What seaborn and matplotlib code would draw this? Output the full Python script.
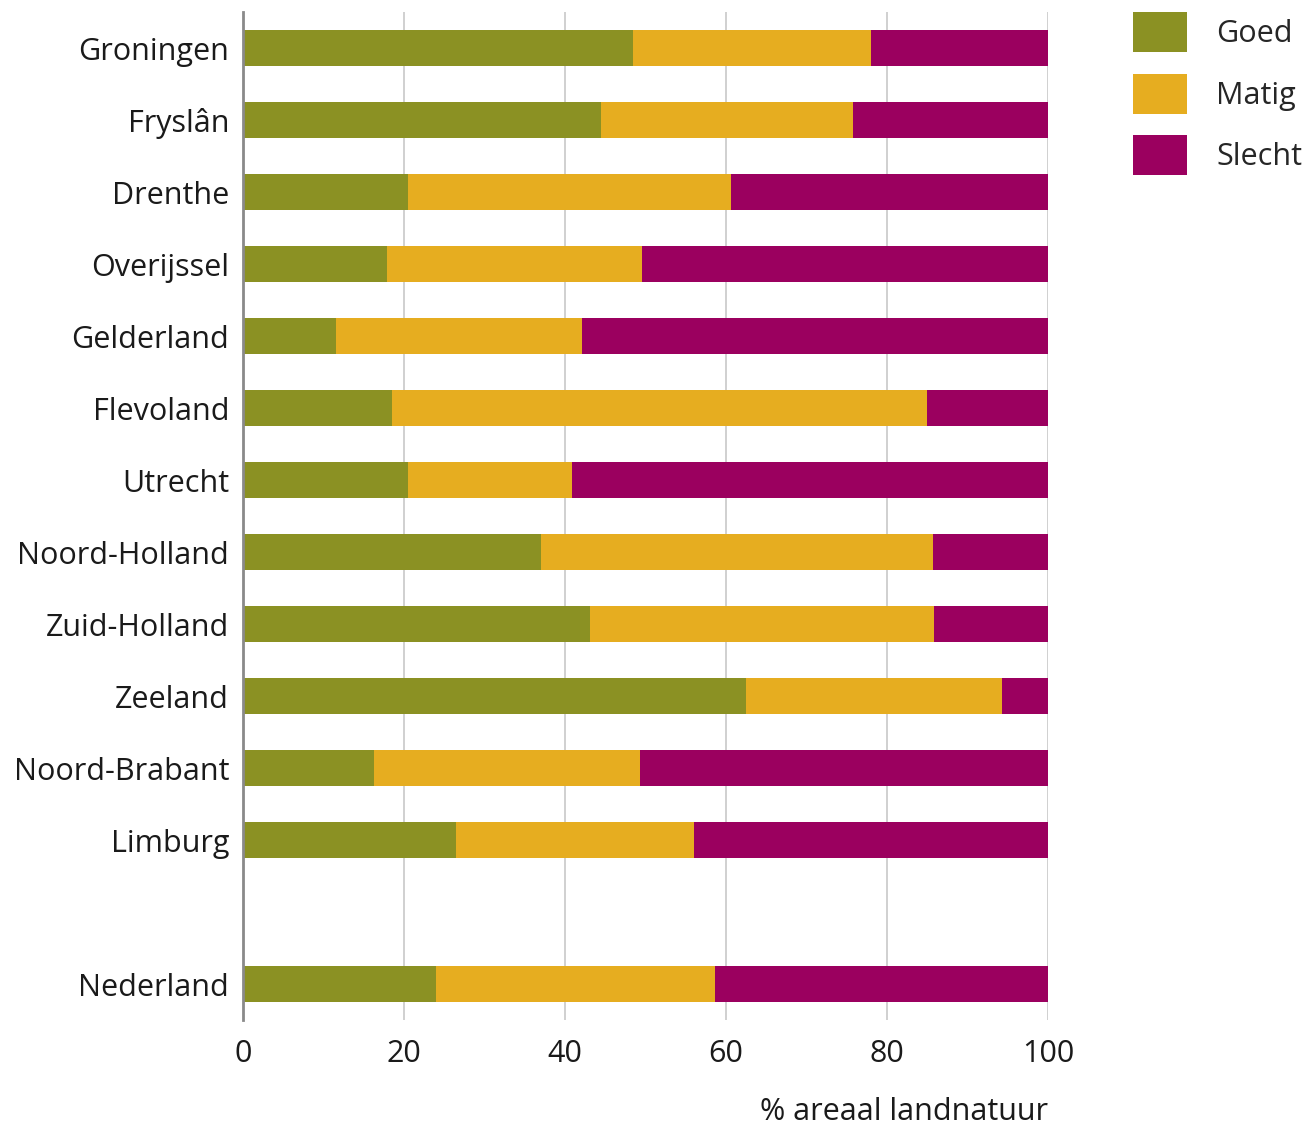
import pandas as pd
import matplotlib.pyplot as plt
import seaborn as sns
from matplotlib.patches import Patch

# DATA
provincies = ["Groningen", "Fryslân", "Drenthe", "Overijssel", "Gelderland",
              "Flevoland", "Utrecht", "Noord-Holland", "Zuid-Holland", "Zeeland",
              "Noord-Brabant", "Limburg", "Nederland"]
goed = [48.4, 44.4, 20.5, 17.9, 11.6, 18.5, 20.5, 37.0, 43.1, 62.5, 16.3, 26.5, 23.9]
matig = [29.6, 31.3, 40.1, 31.7, 30.5, 66.5, 20.4, 48.7, 42.7, 31.8, 33.0, 29.5, 34.7]
slecht = [22.0, 24.3, 39.4, 50.4, 57.9, 15.0, 59.1, 14.3, 14.2, 5.7, 50.7, 44.0, 41.4]

# lege rij tussen Limburg en Nederland
volgorde = provincies[:-1] + [" "] + provincies[-1:]

kleuren = {"Goed": "#8b9123", "Matig": "#e6ad20", "Slecht": "#9b005f"}

df = pd.DataFrame({"provincie": provincies, "Goed": goed, "Matig": matig, "Slecht": slecht})
df["cum_matig"] = df["Goed"] + df["Matig"]
df["cum_slecht"] = df["cum_matig"] + df["Slecht"]

sns.set_theme(style="white")
plt.rcParams["font.family"] = ["Open Sans", "DejaVu Sans"]

fig = plt.figure(figsize=(13.07, 11.29), dpi=100)
ax = fig.add_axes([0.186, 0.0965, 0.616, 0.8925])

# gestapelde balken: totaal eerst, dan goed+matig, dan goed
for kolom, naam in [("cum_slecht", "Slecht"), ("cum_matig", "Matig"), ("Goed", "Goed")]:
    sns.barplot(data=df, y="provincie", x=kolom, order=volgorde, orient="h",
                color=kleuren[naam], width=0.5, linewidth=0, saturation=1,
                zorder=3, ax=ax)

ax.set_xlim(0, 100)
ax.set_ylim(13.5, -0.5)
ax.set_xticks([0, 20, 40, 60, 80, 100])
ax.grid(axis="x", color="#c8c8c8", linewidth=1.2, zorder=0)
ax.grid(axis="y", visible=False)
for s in ["top", "right", "bottom"]:
    ax.spines[s].set_visible(False)
ax.spines["left"].set_color("#8a8a8a")
ax.spines["left"].set_linewidth(2)
ax.spines["left"].set_zorder(5)
ax.tick_params(axis="both", length=0, labelsize=22, colors="#1a1a1a")
ax.tick_params(axis="x", pad=14)
ax.tick_params(axis="y", pad=10)
ax.set_ylabel("")
ax.set_xlabel("% areaal landnatuur", fontsize=22, loc="right", labelpad=20, color="#1a1a1a")

handles = [Patch(facecolor=kleuren[k], edgecolor="none", label=k) for k in ["Goed", "Matig", "Slecht"]]
fig.legend(handles=handles, loc="upper left", bbox_to_anchor=(0.8575, 1.0),
           frameon=False, fontsize=22, handlelength=1.77, handleheight=1.65,
           handletextpad=0.95, labelspacing=0.69, borderaxespad=0.0)

plt.savefig("out.png", dpi=100)
